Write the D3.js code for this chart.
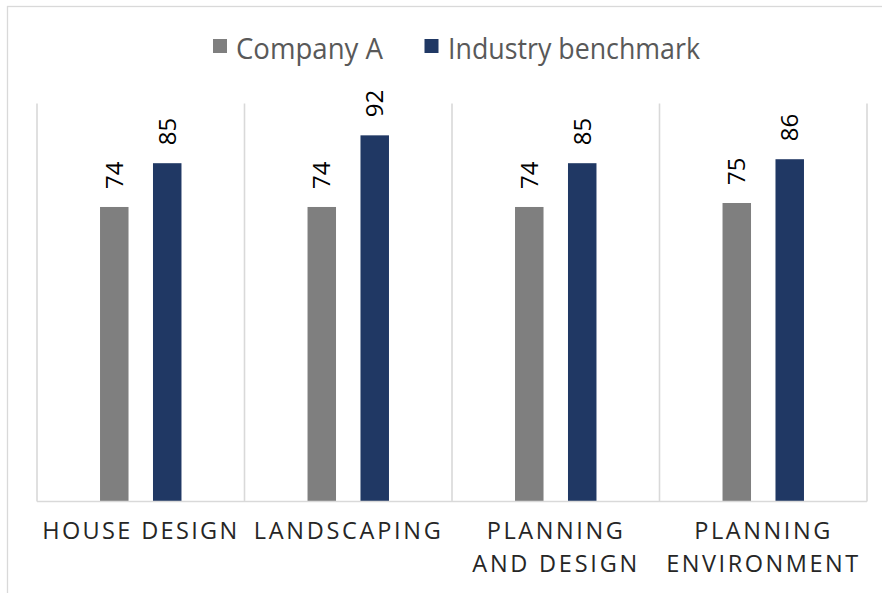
<!DOCTYPE html>
<html><head><meta charset="utf-8">
<script src="https://cdn.jsdelivr.net/npm/d3@7/dist/d3.min.js"></script>
<style>html,body{margin:0;padding:0;background:#fff;overflow:hidden}</style>
</head><body>
<svg id="chart" width="882" height="593"></svg>
<script>
const categories = ["HOUSE DESIGN", "LANDSCAPING", "PLANNING AND DESIGN", "PLANNING ENVIRONMENT"];
const categoryLines = [["HOUSE DESIGN"], ["LANDSCAPING"], ["PLANNING", "AND DESIGN"], ["PLANNING", "ENVIRONMENT"]];
const seriesNames = ["Company A", "Industry benchmark"];
const companyA = [74, 74, 74, 75];
const benchmark = [85, 92, 85, 86];
const colors = ["#7f7f7f", "#203864"];

const svg = d3.select("#chart");
const W = 882, H = 593;
const plot = {left: 37, right: 867, top: 103.5, bottom: 501.5};

// chart frame
svg.append("rect").attr("x", 7.5).attr("y", 6.5).attr("width", W).attr("height", H)
  .attr("fill", "#fff").attr("stroke", "#d9d9d9").attr("stroke-width", 1.3);

const x0 = d3.scaleBand().domain(categories).range([plot.left, plot.right]).paddingInner(0).paddingOuter(0);
const x1 = d3.scaleBand().domain(seriesNames).range([0, x0.bandwidth()]).paddingInner(0.462).paddingOuter(1.19);
const y = d3.scaleLinear().domain([0, 100]).range([plot.bottom, plot.top]);

// vertical gridlines at category boundaries
const bounds = categories.map(c => x0(c)).concat([plot.right]);
svg.append("g").selectAll("line").data(bounds).join("line")
  .attr("x1", d => d).attr("x2", d => d)
  .attr("y1", y(100)).attr("y2", y(0))
  .attr("stroke", "#d9d9d9").attr("stroke-width", 1.6);

// bars
const data = categories.map((c, i) => ({cat: c, values: [companyA[i], benchmark[i]]}));
const groups = svg.append("g").selectAll("g").data(data).join("g")
  .attr("transform", d => `translate(${x0(d.cat)},0)`);
groups.selectAll("rect").data(d => d.values.map((v, j) => ({s: seriesNames[j], v, j}))).join("rect")
  .attr("x", d => x1(d.s)).attr("width", x1.bandwidth())
  .attr("y", d => y(d.v)).attr("height", d => y(0) - y(d.v))
  .attr("fill", d => colors[d.j]);
// value labels
groups.selectAll("text").data(d => d.values.map((v, j) => ({s: seriesNames[j], v, j}))).join("text")
  .attr("transform", d => `translate(${x1(d.s) + x1.bandwidth() / 2},${y(d.v) - 18}) rotate(-90)`)
  .attr("dy", "0.36em")
  .attr("font-family", "Open Sans, Noto Sans, sans-serif").attr("font-size", 24)
  .attr("fill", "#000").text(d => d.v);

// x axis line
svg.append("line").attr("x1", plot.left).attr("x2", plot.right)
  .attr("y1", y(0)).attr("y2", y(0)).attr("stroke", "#d9d9d9").attr("stroke-width", 1.6);

// category labels
const labelWidths = {"HOUSE DESIGN": 195, "LANDSCAPING": 187, "PLANNING": 136, "AND DESIGN": 165, "ENVIRONMENT": 192};
categories.forEach((c, i) => {
  categoryLines[i].forEach((line, k) => {
    svg.append("text")
      .attr("x", x0(c) + x0.bandwidth() / 2 - 1)
      .attr("y", 539 + k * 33)
      .attr("text-anchor", "middle")
      .attr("font-family", "Open Sans, Noto Sans, sans-serif").attr("font-size", 23.5)
      .attr("fill", "#262626")
      .attr("textLength", labelWidths[line]).attr("lengthAdjust", "spacing")
      .text(line);
  });
});

// legend
const legendItems = [
  {name: seriesNames[0], color: colors[0], sx: 213, tx: 236, w: 147},
  {name: seriesNames[1], color: colors[1], sx: 424.5, tx: 448, w: 252}
];
const lg = svg.append("g");
legendItems.forEach(d => {
  lg.append("rect").attr("x", d.sx).attr("y", 39).attr("width", 14).attr("height", 14).attr("fill", d.color);
  lg.append("text").attr("x", d.tx).attr("y", 58.5)
    .attr("font-family", "Open Sans, Noto Sans, sans-serif").attr("font-size", 28.5)
    .attr("fill", "#595959")
    .attr("textLength", d.w).attr("lengthAdjust", "spacingAndGlyphs")
    .text(d.name);
});
</script>
</body></html>
